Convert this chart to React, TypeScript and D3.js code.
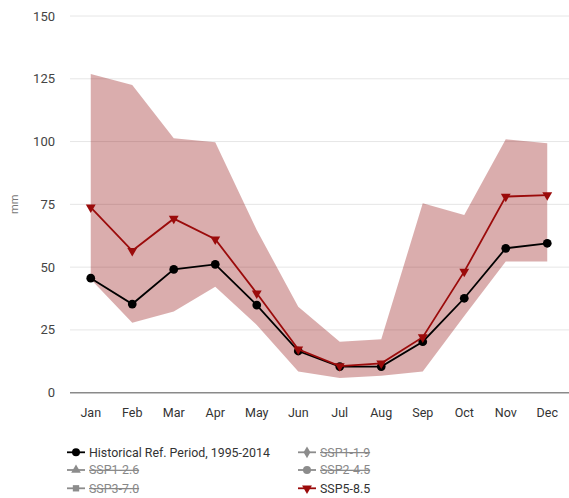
import React from "react";
import * as d3 from "d3";

// Monthly precipitation climatology (mm)
const months = ["Jan", "Feb", "Mar", "Apr", "May", "Jun", "Jul", "Aug", "Sep", "Oct", "Nov", "Dec"];
const historical = [45.6, 35.3, 49.1, 51.1, 34.9, 16.6, 10.4, 10.4, 20.3, 37.6, 57.5, 59.5];
const ssp585 = [73.8, 56.5, 69.3, 61.1, 39.6, 17.3, 10.6, 11.7, 22.1, 48.2, 78.1, 78.7];
const ssp585Upper = [126.9, 122.5, 101.3, 99.7, 64.8, 34.2, 20.3, 21.3, 75.4, 70.8, 100.9, 99.3];
const ssp585Lower = [45.2, 27.9, 32.3, 42.2, 27.0, 8.4, 5.9, 6.7, 8.4, 30.5, 52.2, 52.2];
const yTicks = [0, 25, 50, 75, 100, 125, 150];

type LegendItem = { label: string; symbol: d3.SymbolType; color: string; active: boolean; col: number; row: number };
const legendItems: LegendItem[] = [
  { label: "Historical Ref. Period, 1995-2014", symbol: d3.symbolCircle, color: "#000000", active: true, col: 0, row: 0 },
  { label: "SSP1-1.9", symbol: d3.symbolDiamond, color: "#8c8c8c", active: false, col: 1, row: 0 },
  { label: "SSP1-2.6", symbol: d3.symbolTriangle, color: "#8c8c8c", active: false, col: 0, row: 1 },
  { label: "SSP2-4.5", symbol: d3.symbolCircle, color: "#8c8c8c", active: false, col: 1, row: 1 },
  { label: "SSP3-7.0", symbol: d3.symbolSquare, color: "#8c8c8c", active: false, col: 0, row: 2 },
  { label: "SSP5-8.5", symbol: d3.symbolTriangle, color: "#9b0b0b", active: true, col: 1, row: 2 },
];

const W = 569;
const H = 498;
const FONT = "Roboto, 'Noto Sans', sans-serif";
const RED = "#9b0b0b";

export default function App() {
  const x = d3.scalePoint<string>().domain(months).range([70, 568]).padding(0.5);
  const y = d3.scaleLinear().domain([0, 150]).range([392.7, 16]);

  const area = d3
    .area<number>()
    .x((_, i) => x(months[i]) as number)
    .y0((_, i) => y(ssp585Lower[i]))
    .y1((d) => y(d));
  const line = d3
    .line<number>()
    .x((_, i) => x(months[i]) as number)
    .y((d) => y(d));

  const circle = d3.symbol().type(d3.symbolCircle).size(60)() as string;
  const triDown = d3.symbol().type(d3.symbolTriangle).size(42)() as string;

  const legendX = [67, 298];
  const legendY = [452.3, 470, 488.3];

  return (
    <svg width={W} height={H} style={{ position: "absolute", left: 0, top: 0, background: "#fff" }} fontFamily={FONT}>
      {/* grid */}
      {yTicks.map((t) => (
        <g key={t}>
          {t > 0 && <line x1={70} x2={569} y1={y(t)} y2={y(t)} stroke="#e6e6e6" strokeWidth={1} />}
          <text x={55} y={y(t)} dy="0.35em" textAnchor="end" fontSize={13} fill="#444">
            {t}
          </text>
        </g>
      ))}
      <text
        transform={`translate(18,${(y(0) + y(150)) / 2}) rotate(-90)`}
        textAnchor="middle"
        fontSize={11}
        fill="#777"
      >
        mm
      </text>

      {/* SSP5-8.5 range */}
      <path d={area(ssp585Upper) as string} fill="#8b0000" fillOpacity={0.32} />

      {/* baseline */}
      <line x1={70} x2={569} y1={y(0)} y2={y(0)} stroke="#8a8a8a" strokeWidth={1.5} />

      {/* month labels */}
      {months.map((m) => (
        <text key={m} x={x(m)} y={413} dy="0.35em" textAnchor="middle" fontSize={12.5} fill="#333">
          {m}
        </text>
      ))}

      {/* historical */}
      <path d={line(historical) as string} fill="none" stroke="#000" strokeWidth={1.8} />
      {historical.map((v, i) => (
        <path key={i} d={circle} transform={`translate(${x(months[i])},${y(v)})`} fill="#000" />
      ))}

      {/* SSP5-8.5 median */}
      <path d={line(ssp585) as string} fill="none" stroke={RED} strokeWidth={1.8} />
      {ssp585.map((v, i) => (
        <path key={i} d={triDown} transform={`translate(${x(months[i])},${y(v)}) rotate(180)`} fill={RED} />
      ))}

      {/* legend */}
      {legendItems.map((it) => {
        const lx = legendX[it.col];
        const ly = legendY[it.row];
        const isDown = it.label === "SSP5-8.5";
        const sym = d3.symbol().type(it.symbol).size(isDown ? 42 : it.symbol === d3.symbolCircle ? 50 : 40)() as string;
        const textColor = it.active ? "#333" : "#888";
        return (
          <g key={it.label}>
            <line x1={lx} x2={lx + 18} y1={ly} y2={ly} stroke={it.color} strokeWidth={1.8} />
            <path d={sym} transform={`translate(${lx + 9},${ly}) ${isDown ? "rotate(180)" : ""}`} fill={it.color} />
            <text
              x={lx + 22}
              y={ly}
              dy="0.35em"
              fontSize={12.4}
              fill={textColor}
              textDecoration={it.active ? undefined : "line-through"}
            >
              {it.label}
            </text>
          </g>
        );
      })}
    </svg>
  );
}
